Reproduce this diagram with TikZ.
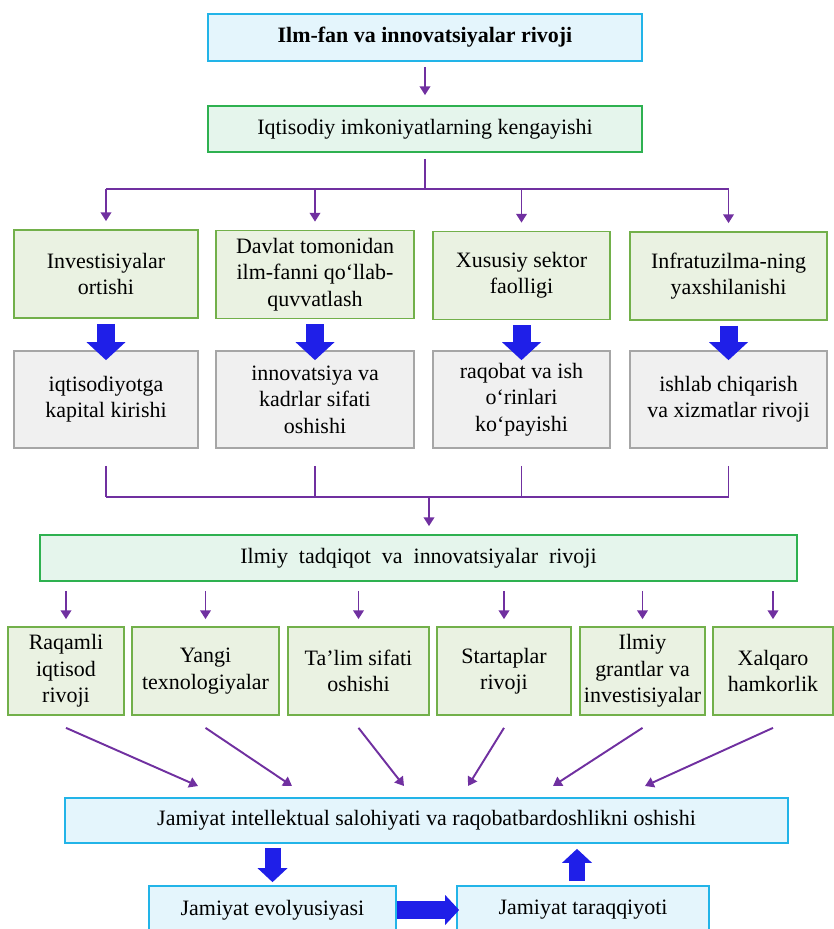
\documentclass[tikz,border=0pt]{standalone}
\usepackage{fontspec}
\setmainfont{Liberation Serif}
\usepackage{tikz}
\usetikzlibrary{arrows.meta,calc}

\definecolor{cyanline}{HTML}{22B4E8}
\definecolor{cyanfill}{HTML}{E4F5FC}
\definecolor{mintline}{HTML}{2EB150}
\definecolor{mintfill}{HTML}{E5F5EC}
\definecolor{leafline}{HTML}{72B04A}
\definecolor{leaffill}{HTML}{EAF2E2}
\definecolor{greyline}{HTML}{A6A6A6}
\definecolor{greyfill}{HTML}{F0F0F0}
\definecolor{linkpurple}{HTML}{7030A0}
\definecolor{fatblue}{HTML}{1F1FE8}

\newcommand{\boxfont}{\fontsize{12.5}{15}\selectfont}

\tikzset{
  box/.style={draw, line width=1pt, align=center, inner sep=1pt, font=\boxfont},
  bluebox/.style={box, draw=cyanline, fill=cyanfill},
  greenbox/.style={box, draw=mintline, fill=mintfill},
  leafbox/.style={box, draw=leafline, fill=leaffill},
  greybox/.style={box, draw=greyline, fill=greyfill},
  link/.style={draw=linkpurple, line width=1.1pt},
  linkarrow/.style={link, -{Triangle[width=6pt,length=5pt]}},
  fatarrow/.style={draw=fatblue, line width=0.36cm,
    -{Triangle[width=0.78cm,length=0.36cm,line width=0pt]}},
  fatarrow small/.style={draw=fatblue, line width=0.32cm,
    -{Triangle[width=0.6cm,length=0.28cm,line width=0pt]}}
}

\begin{document}
\begin{tikzpicture}[x=0.02cm, y=-0.02cm]
  \useasboundingbox (0,0) rectangle (833,929);

  %Top
  \node[bluebox, minimum width=8.68cm, minimum height=0.94cm, font=\boxfont\bfseries] (ilm) at (425,37.5) {Ilm-fan va innovatsiyalar rivoji};
  \node[greenbox, minimum width=8.68cm, minimum height=0.92cm] (iqt) at (425,129) {Iqtisodiy imkoniyatlarning kengayishi};
  \draw[linkarrow] ([yshift=-0.1cm]ilm.south) -- ([yshift=0.2cm]iqt.north);

  %Factors
  \begin{scope}[every node/.style={leafbox, minimum height=1.76cm}]
    \node[minimum width=3.68cm] (inv) at (106,274) {Investisiyalar\\ortishi};
    \node[minimum width=3.96cm] (dav) at (315,274.5) {Davlat tomonidan\\ilm-fanni qo‘llab-\\quvvatlash};
    \node[minimum width=3.54cm] (xus) at (521.5,275.5) {Xususiy sektor\\faolligi};
    \node[minimum width=3.94cm] (inf) at (728.5,276) {Infratuzilma-ning\\yaxshilanishi};
  \end{scope}

  %Results
  \begin{scope}[every node/.style={greybox, minimum height=1.94cm}]
    \node[minimum width=3.68cm] (kap) at (106,399.5) {iqtisodiyotga\\kapital kirishi};
    \node[minimum width=3.96cm] (kadr) at (315,399.5) {innovatsiya va\\kadrlar sifati\\oshishi};
    \node[minimum width=3.54cm] (raq) at (521.5,399.5) {raqobat va ish\\o‘rinlari\\ko‘payishi};
    \node[minimum width=3.94cm] (ish) at (728.5,399.5) {ishlab chiqarish\\va xizmatlar rivoji};
  \end{scope}

  %Fork 1
  \coordinate (fork1) at (425,189);
  \draw[link] ([yshift=-0.12cm]iqt.south) -- (fork1);
  \draw[link] (inv.north |- fork1) -- (inf.north |- fork1);
  \foreach \n in {inv,dav,xus,inf}
    \draw[linkarrow] (\n.north |- fork1) -- ([yshift=0.16cm]\n.north);
  \foreach \a/\b in {inv/kap,dav/kadr,xus/raq,inf/ish}
    \draw[fatarrow] ([yshift=-0.1cm]\a.south) -- ([yshift=-0.2cm]\b.north);

  %Fork 2
  \node[greenbox, minimum width=15.14cm, minimum height=0.92cm] (ilmiy) at (418.5,558) {Ilmiy~ tadqiqot~ va~ innovatsiyalar~ rivoji};
  \coordinate (fork2) at (429,497);
  \foreach \n in {kap,kadr,raq,ish}
    \draw[link] ([yshift=-0.34cm]\n.south) -- (\n.south |- fork2);
  \draw[link] (kap.south |- fork2) -- (ish.south |- fork2);
  \draw[linkarrow] (fork2) -- ($(fork2 |- ilmiy.north)+(0,-8)$);

  %Directions
  \begin{scope}[every node/.style={leafbox, minimum height=1.76cm}]
    \node[minimum width=2.32cm] (raqam) at (66,671) {Raqamli\\iqtisod\\rivoji};
    \node[minimum width=2.94cm] (yangi) at (205.5,671) {Yangi\\texnologiyalar};
    \node[minimum width=2.82cm] (talim) at (358.5,671) {Ta’lim sifati\\oshishi};
    \node[minimum width=2.68cm] (start) at (504,671) {Startaplar\\rivoji};
    \node[minimum width=2.5cm] (grant) at (642.5,671) {Ilmiy\\grantlar va\\investisiyalar};
    \node[minimum width=2.4cm] (xalq) at (773,671) {Xalqaro\\hamkorlik};
  \end{scope}
  \foreach \n in {raqam,yangi,talim,start,grant,xalq}
    \draw[linkarrow] ($(\n.north |- ilmiy.south)+(0,9)$) -- ($(\n.north)+(0,-7)$);

  %Result
  \node[bluebox, minimum width=14.46cm, minimum height=0.9cm] (jam) at (426.5,820.5) {Jamiyat intellektual salohiyati va raqobatbardoshlikni oshishi};
  \foreach \t [count=\i] in {198,292,404,468,553,645}
    \coordinate (in\i) at (\t,786);
  \foreach \n [count=\i] in {raqam,yangi,talim,start,grant,xalq}
    \draw[linkarrow] ($(\n.south)+(0,12)$) -- (in\i);

  %Bottom
  \node[bluebox, minimum width=4.94cm, minimum height=0.96cm] (evo) at (272.5,910) {Jamiyat evolyusiyasi};
  \node[bluebox, minimum width=5.04cm, minimum height=0.96cm] (tar) at (583,910) {Jamiyat taraqqiyoti};
  \draw[fatarrow small] ($(evo.north |- jam.south)+(0,4)$) -- ($(evo.north)+(0,-3)$);
  \draw[fatarrow small] ($(tar.north)+(-6,-4)$) -- ($(tar.north |- jam.south)+(-6,5)$);
  \draw[fatarrow small, line width=0.36cm] (evo.east) -- ($(tar.west)+(3,0)$);
\end{tikzpicture}
\end{document}
